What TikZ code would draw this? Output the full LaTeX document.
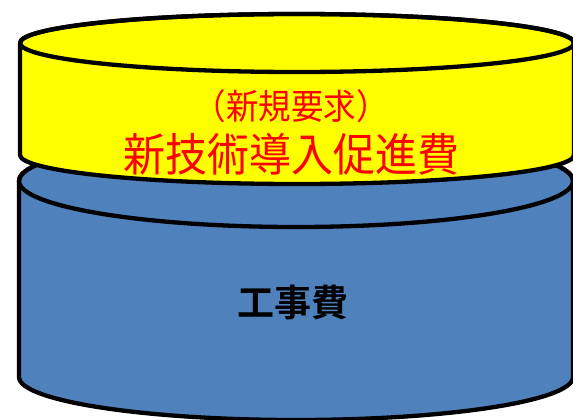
\documentclass[tikz,border=0pt]{standalone}
\usepackage{fontspec}
\newfontfamily\jpfont{Noto Sans CJK JP}
\newfontfamily\jpbold{Noto Sans CJK JP Bold}
\definecolor{cylblue}{HTML}{4F81BD}
\definecolor{cylyellow}{HTML}{FFFF00}
\tikzset{
  cylline/.style={draw=black, line width=4.3pt, line join=round},
  redtext/.style={text=red, inner sep=0pt, yscale=1.08, transform shape},
}
\begin{document}
\begin{tikzpicture}[x=1pt,y=-1pt]
\useasboundingbox (0,0) rectangle (573,420);
\fill[white] (0,0) rectangle (573,420);
% blue cylinder
\path[cylline, fill=cylblue] (19,181) -- (19,377)
  arc[start angle=180, end angle=360, x radius=277, y radius=-43] -- (573,181)
  arc[start angle=0, end angle=180, x radius=277, y radius=-46] -- cycle;
\draw[cylline] (296,181) ellipse[x radius=277, y radius=46];
% yellow cylinder
\path[cylline, fill=cylyellow] (20,43) -- (20,155)
  arc[start angle=180, end angle=360, x radius=277, y radius=-29] -- (574,43)
  arc[start angle=0, end angle=180, x radius=277, y radius=-29] -- cycle;
\draw[cylline] (297,43) ellipse[x radius=277, y radius=29];
% texts
\node[redtext, font=\jpfont\fontsize{32.5}{36}\selectfont] (req) at (291,106) {（新規要求）};
\node[redtext, font=\jpfont\fontsize{42}{46}\selectfont] (tech) at (291.5,154) {新技術導入促進費};
\node[inner sep=0pt, text=black, font=\jpbold\fontsize{37}{40}\selectfont] (work) at (293,302) {工事費};
\end{tikzpicture}
\end{document}
